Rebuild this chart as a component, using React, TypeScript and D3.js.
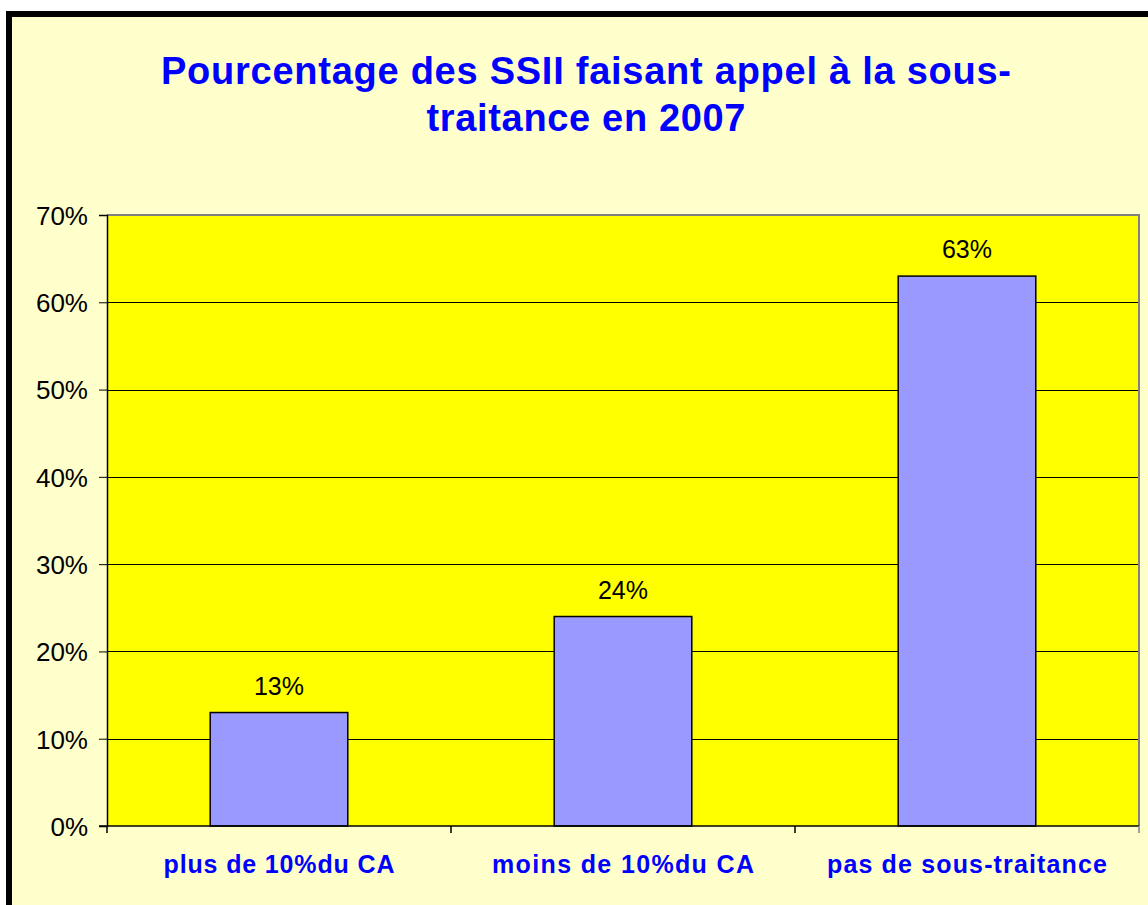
import { useRef, useEffect } from 'react';
import * as d3 from 'd3';

const categories = ['plus de 10%du CA', 'moins de 10%du CA', 'pas de sous-traitance'];
const values = [0.13, 0.24, 0.63];
const yTicks = [0, 0.1, 0.2, 0.3, 0.4, 0.5, 0.6, 0.7];
const titleLines = ['Pourcentage des SSII faisant appel à la sous-', 'traitance en 2007'];

const W = 1148;
const H = 905;

function App() {
    const ref = useRef<SVGSVGElement>(null);

    useEffect(() => {
        const svg = d3.select(ref.current);
        svg.selectAll('*').remove();
        svg.attr('width', W).attr('height', H);

        const font = 'Liberation Sans, Arial, sans-serif';
        const left = 107, right = 1139, top = 215, bottom = 826;

        // chart background with thick black frame
        svg.append('rect')
            .attr('x', 9).attr('y', 14)
            .attr('width', 1200).attr('height', 1000)
            .attr('fill', '#FFFFCC')
            .attr('stroke', '#000')
            .attr('stroke-width', 6);

        // title
        const titleWidths = [850, 319];
        svg.selectAll('text.title')
            .data(titleLines)
            .enter()
            .append('text')
            .attr('class', 'title')
            .attr('x', 586)
            .attr('y', (d, i) => 84 + i * 47)
            .attr('text-anchor', 'middle')
            .attr('textLength', (d, i) => titleWidths[i])
            .attr('lengthAdjust', 'spacing')
            .style('font-family', font)
            .style('font-weight', 'bold')
            .style('font-size', '38px')
            .style('fill', '#0000FF')
            .text(d => d);

        const x = d3.scaleBand<string>().domain(categories).range([left, right]);
        const y = d3.scaleLinear().domain([0, 0.7]).range([bottom, top]);

        // plot area
        svg.append('rect')
            .attr('x', left).attr('y', top)
            .attr('width', right - left).attr('height', bottom - top)
            .attr('fill', '#FFFF00');

        // gridlines
        svg.selectAll('line.grid')
            .data(yTicks.slice(1, -1))
            .enter()
            .append('line')
            .attr('x1', left).attr('x2', right)
            .attr('y1', d => Math.round(y(d)) + 0.5)
            .attr('y2', d => Math.round(y(d)) + 0.5)
            .attr('stroke', '#000')
            .attr('stroke-width', 1);

        // top + right border of plot area
        svg.append('path')
            .attr('d', `M${left},${top} H${right} V${bottom}`)
            .attr('fill', 'none')
            .attr('stroke', '#808080')
            .attr('stroke-width', 2);

        // bars
        const bw = x.bandwidth() / 2.5;
        svg.selectAll('rect.bar')
            .data(values)
            .enter()
            .append('rect')
            .attr('x', (d, i) => x(categories[i])! + (x.bandwidth() - bw) / 2)
            .attr('y', d => y(d))
            .attr('width', bw)
            .attr('height', d => bottom - y(d))
            .attr('fill', '#9999FF')
            .attr('stroke', '#000')
            .attr('stroke-width', 1.5);

        // value labels
        svg.selectAll('text.val')
            .data(values)
            .enter()
            .append('text')
            .attr('x', (d, i) => x(categories[i])! + x.bandwidth() / 2)
            .attr('y', d => y(d) - 18)
            .attr('text-anchor', 'middle')
            .style('font-family', font)
            .style('font-size', '25px')
            .style('fill', '#000')
            .text(d => `${Math.round(d * 100)}%`);

        // y axis
        const yAxis = svg.append('g').attr('transform', `translate(${left},0)`)
            .call(d3.axisLeft(y).tickValues(yTicks).tickFormat(d3.format('.0%')).tickSize(8).tickPadding(11));
        yAxis.select('.domain').attr('stroke', '#000').attr('stroke-width', 1.5);
        yAxis.selectAll('.tick line').attr('stroke', '#000');
        yAxis.selectAll('text')
            .style('font-family', font)
            .style('font-size', '26px')
            .attr('fill', '#000')
            .attr('dy', '0.36em');

        // x axis
        svg.append('line')
            .attr('x1', left - 8).attr('x2', right)
            .attr('y1', bottom).attr('y2', bottom)
            .attr('stroke', '#000')
            .attr('stroke-width', 1.5);
        const bounds = categories.map(c => x(c)!).concat([right]);
        svg.selectAll('line.xtick')
            .data(bounds)
            .enter()
            .append('line')
            .attr('x1', d => d).attr('x2', d => d)
            .attr('y1', bottom).attr('y2', bottom + 7)
            .attr('stroke', (d, i) => i === bounds.length - 1 ? '#808080' : '#000')
            .attr('stroke-width', 1.5);

        const labelWidths = [231, 262, 280];
        svg.selectAll('text.cat')
            .data(categories)
            .enter()
            .append('text')
            .attr('x', d => x(d)! + x.bandwidth() / 2)
            .attr('y', 873)
            .attr('text-anchor', 'middle')
            .attr('textLength', (d, i) => labelWidths[i])
            .attr('lengthAdjust', 'spacing')
            .style('font-family', font)
            .style('font-weight', 'bold')
            .style('font-size', '25px')
            .style('fill', '#0000FF')
            .text(d => d);
    }, []);

    return (
        <div style={{ position: 'fixed', left: 0, top: 0, width: W, height: H, overflow: 'hidden', background: '#fff' }}>
            <svg ref={ref} style={{ display: 'block' }} />
        </div>
    );
}

export default App;
